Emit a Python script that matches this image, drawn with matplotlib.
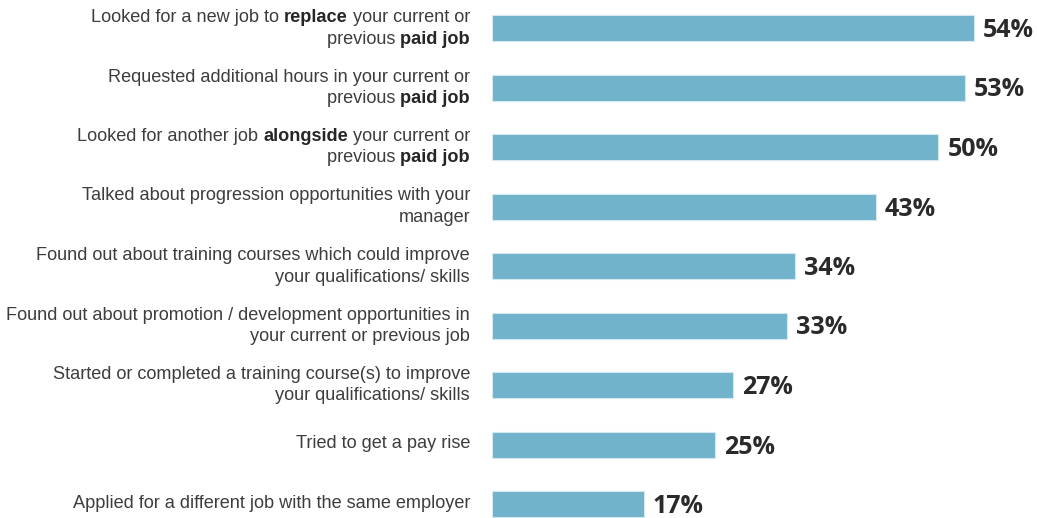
import matplotlib.pyplot as plt

plt.rcParams['font.family'] = ['Liberation Sans', 'DejaVu Sans']

# Survey answers, top to bottom; **...** marks the bold words
categories = [
    "Looked for a new job to **replace** your current or\nprevious **paid job**",
    "Requested additional hours in your current or\nprevious **paid job**",
    "Looked for another job **alongside** your current or\nprevious **paid job**",
    "Talked about progression opportunities with your\nmanager",
    "Found out about training courses which could improve\nyour qualifications/ skills",
    "Found out about promotion / development opportunities in\nyour current or previous job",
    "Started or completed a training course(s) to improve\nyour qualifications/ skills",
    "Tried to get a pay rise",
    "Applied for a different job with the same employer",
]
values = [54, 53, 50, 43, 34, 33, 27, 25, 17]

bar_color = '#70b3ca'
label_color = '#3d3d3d'

fig = plt.figure(figsize=(10.37, 5.18), dpi=100)
W, H = 1037, 518
x0, px_per_unit = 492, 482 / 54
top_c, step = 28, 59.5
ax = fig.add_axes([x0 / W, 0, (W - x0) / W, 1])
ax.set_xlim(0, (W - x0) / px_per_unit)
ax.set_ylim((H - top_c) / step, -top_c / step)
ax.axis('off')

ypos = list(range(len(values)))
ax.barh(ypos, values, height=26 / step, color=bar_color,
        edgecolor='#d6e8ef', linewidth=0.8)

for y, v in zip(ypos, values):
    ax.annotate(f"{v}%", (v, y), xytext=(9, -2.5), textcoords='offset pixels',
                ha='left', va='center', fontsize=18, fontweight='bold',
                family=['Open Sans', 'DejaVu Sans'], color='#2a2a2a')

renderer = fig.canvas.get_renderer()


def draw_line(line, y, dy):
    # right-aligned line built from right to left, switching weight at **
    parts = line.split('**')
    xoff = -22
    for i in range(len(parts) - 1, -1, -1):
        if not parts[i]:
            continue
        bold = i % 2 == 1
        t = ax.annotate(parts[i], (0, y), xytext=(xoff, dy), textcoords='offset pixels',
                        ha='right', va='baseline', fontsize=13.1,
                        color='#262626' if bold else label_color,
                        fontweight='bold' if bold else 'normal')
        bb = t.get_window_extent(renderer)
        xoff -= bb.width


for y, lab in zip(ypos, categories):
    lines = lab.split("\n")
    offs = [6, -15.5] if len(lines) == 2 else [-4]
    for line, dy in zip(lines, offs):
        draw_line(line, y, dy)

fig.savefig('out.png', dpi=100)
